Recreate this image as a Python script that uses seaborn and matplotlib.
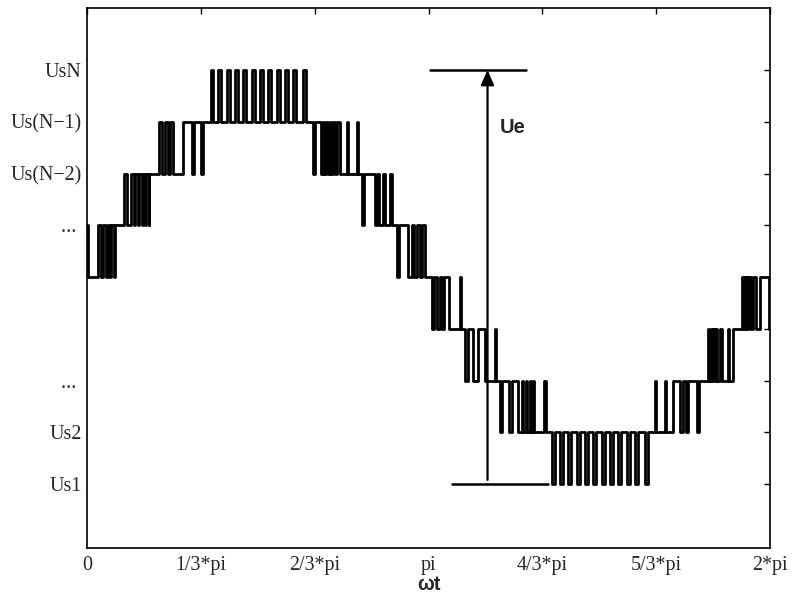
import numpy as np
import pandas as pd
import matplotlib
matplotlib.use("Agg")
import matplotlib.pyplot as plt
import seaborn as sns

# Switching instants of the multilevel PWM waveform (degrees of wt) and the level it jumps to
switch_deg = [
    # band 0 .. 1
    0.00, 0.79, 5.80, 7.38, 8.43, 10.01, 10.81, 12.12, 12.91, 14.23, 15.02,
    # band 1 .. 2
    19.50, 21.08, 23.19, 24.77, 25.56, 26.88, 27.67, 28.73, 29.52, 30.57, 31.36, 32.42, 32.94,
    # band 2 .. 3
    37.69, 39.37, 41.11, 42.69, 43.75, 45.59, 50.60, 55.34, 56.66, 60.09, 61.14,
    # band 3 .. 4 (peak pulses)
    65.20, 66.41, 69.21, 70.79, 73.63, 75.21, 78.01, 79.59, 82.38, 83.96, 86.81, 88.39,
    91.19, 92.77, 95.56, 97.14, 99.99, 101.57, 104.36, 105.94, 108.74, 110.32, 113.85, 115.43,
    # band 3 .. 2
    119.12, 120.18, 123.34, 124.13, 125.18, 125.97, 127.03, 127.82, 128.87, 129.66, 130.72, 131.51,
    133.35, 136.78, 137.57, 142.05, 142.84,
    # band 2 .. 1
    144.95, 145.74, 151.54, 152.86, 154.17, 156.02, 156.81, 159.97, 160.76,
    # band 1 .. 0
    163.40, 164.19, 169.35, 171.14, 172.51, 173.78, 175.52, 176.41, 178.15,
    # band 0 .. -1
    181.84, 183.16, 184.74, 186.06, 187.12, 187.91, 190.80, 196.34, 197.13,
    # band -1 .. -2
    199.24, 200.82, 203.45, 206.35, 210.04, 215.05, 215.84,
    # band -2 .. -3
    217.68, 218.74, 222.69, 223.75, 227.17, 229.02, 230.07, 231.13, 232.18, 233.24, 234.03,
    235.08, 235.87, 241.14, 241.93,
    # band -3 .. -4 (valley pulses)
    245.09, 246.68, 249.31, 250.89, 253.69, 255.27, 258.06, 259.64, 262.49, 264.07, 266.86, 268.44,
    271.24, 272.82, 275.67, 277.25, 280.04, 281.62, 284.46, 286.04, 288.84, 290.42, 294.11, 295.69,
    # band -3 .. -2
    299.38, 300.17, 304.65, 305.44, 308.87, 312.56, 314.14, 315.72, 316.78, 321.52, 322.58,
    # band -2 .. -1
    327.32, 328.11, 328.64, 329.43, 329.96, 330.75, 331.28, 332.07, 333.65, 334.70, 337.86, 338.65, 340.50,
    # band -1 .. 0
    344.98, 345.77, 346.30, 347.09, 347.61, 348.40, 348.93, 349.98, 351.30, 352.88, 354.72, 359.47,
]
switch_lvl = [
    1, 0, 1, 0, 1, 0, 1, 0, 1, 0, 1,
    2, 1, 2, 1, 2, 1, 2, 1, 2, 1, 2, 1, 2,
    3, 2, 3, 2, 3, 2, 3, 2, 3, 2, 3,
    4, 3, 4, 3, 4, 3, 4, 3, 4, 3, 4, 3,
    4, 3, 4, 3, 4, 3, 4, 3, 4, 3, 4, 3,
    2, 3, 2, 3, 2, 3, 2, 3, 2, 3, 2, 3,
    2, 3, 2, 3, 2,
    1, 2, 1, 2, 1, 2, 1, 2, 1,
    0, 1, 0, 1, 0, 1, 0, 1, 0,
    -1, 0, -1, 0, -1, 0, -1, 0, -1,
    -2, -1, -2, -1, -2, -1, -2,
    -3, -2, -3, -2, -3, -2, -3, -2, -3, -2, -3,
    -2, -3, -2, -3,
    -4, -3, -4, -3, -4, -3, -4, -3, -4, -3, -4, -3,
    -4, -3, -4, -3, -4, -3, -4, -3, -4, -3, -4, -3,
    -2, -3, -2, -3, -2, -3, -2, -3, -2, -3, -2,
    -1, -2, -1, -2, -1, -2, -1, -2, -1, -2, -1, -2, -1,
    0, -1, 0, -1, 0, -1, 0, -1, 0, -1, 0, -1,
]

level_ticks = [-4, -3, -2, -1, 0, 1, 2, 3, 4]
level_labels = ["Us1", "Us2", "... ", "", "", "... ", "Us(N\u22122)", "Us(N\u22121)", "UsN"]
x_tick_labels = ["0", "1/3*pi", "2/3*pi", "pi", "4/3*pi", "5/3*pi", "2*pi"]

# Ue annotation (degrees / levels)
ue_top_deg = [180.8, 231.4]
ue_bot_deg = [192.4, 243.0]
ue_arrow_deg = 211.1
ue_arrow_from = -3.92
ue_text_deg = 217.7
ue_text_lvl = 2.88

df = pd.DataFrame({"deg": switch_deg + [360.0], "level": switch_lvl + [switch_lvl[-1]]})
df["wt"] = np.deg2rad(df["deg"])

sns.set_style("white")
plt.rcParams["font.family"] = ["Liberation Serif", "DejaVu Serif"]

fig = plt.figure(figsize=(7.95, 5.95), dpi=100)
ax = fig.add_axes([87 / 795, 47 / 595, 683 / 795, 540.5 / 595])

sns.lineplot(data=df, x="wt", y="level", drawstyle="steps-post", estimator=None,
             sort=False, color="black", linewidth=2.0, ax=ax)

# Ue marker lines and arrow
ax.plot(np.deg2rad(ue_top_deg), [4, 4], color="black", linewidth=1.8)
ax.plot(np.deg2rad(ue_bot_deg), [-4, -4], color="black", linewidth=1.8)
ax.annotate("", xy=(np.deg2rad(ue_arrow_deg), 4), xytext=(np.deg2rad(ue_arrow_deg), ue_arrow_from),
            arrowprops=dict(arrowstyle="-|>,head_length=0.45,head_width=0.2", color="black",
                            lw=1.6, mutation_scale=20, shrinkA=0, shrinkB=0))
ax.text(np.deg2rad(ue_text_deg), ue_text_lvl, "Ue", fontsize=14.5, fontweight="bold",
        family=["Liberation Sans", "DejaVu Sans"], va="center", ha="left")

ax.set_xlim(0, 2 * np.pi)
ax.set_ylim(-5.236, 5.208)
ax.set_xticks(np.arange(7) * np.pi / 3)
ax.set_xticklabels(x_tick_labels, fontsize=14.4)
ax.set_yticks(level_ticks)
ax.set_yticklabels(level_labels, fontsize=14.4)
ax.set_xlabel("\u03c9t", fontsize=14.4, fontweight="bold",
              family=["Liberation Sans", "DejaVu Sans"], labelpad=0)
ax.set_ylabel("")

ax.tick_params(direction="in", top=True, right=True, length=4.5, width=1.0, color="black")
ax.tick_params(axis="x", pad=6)
ax.tick_params(axis="y", pad=4)
for sp in ax.spines.values():
    sp.set_visible(True)
    sp.set_color("black")
    sp.set_linewidth(1.2)

fig.savefig("out.png", dpi=100)
